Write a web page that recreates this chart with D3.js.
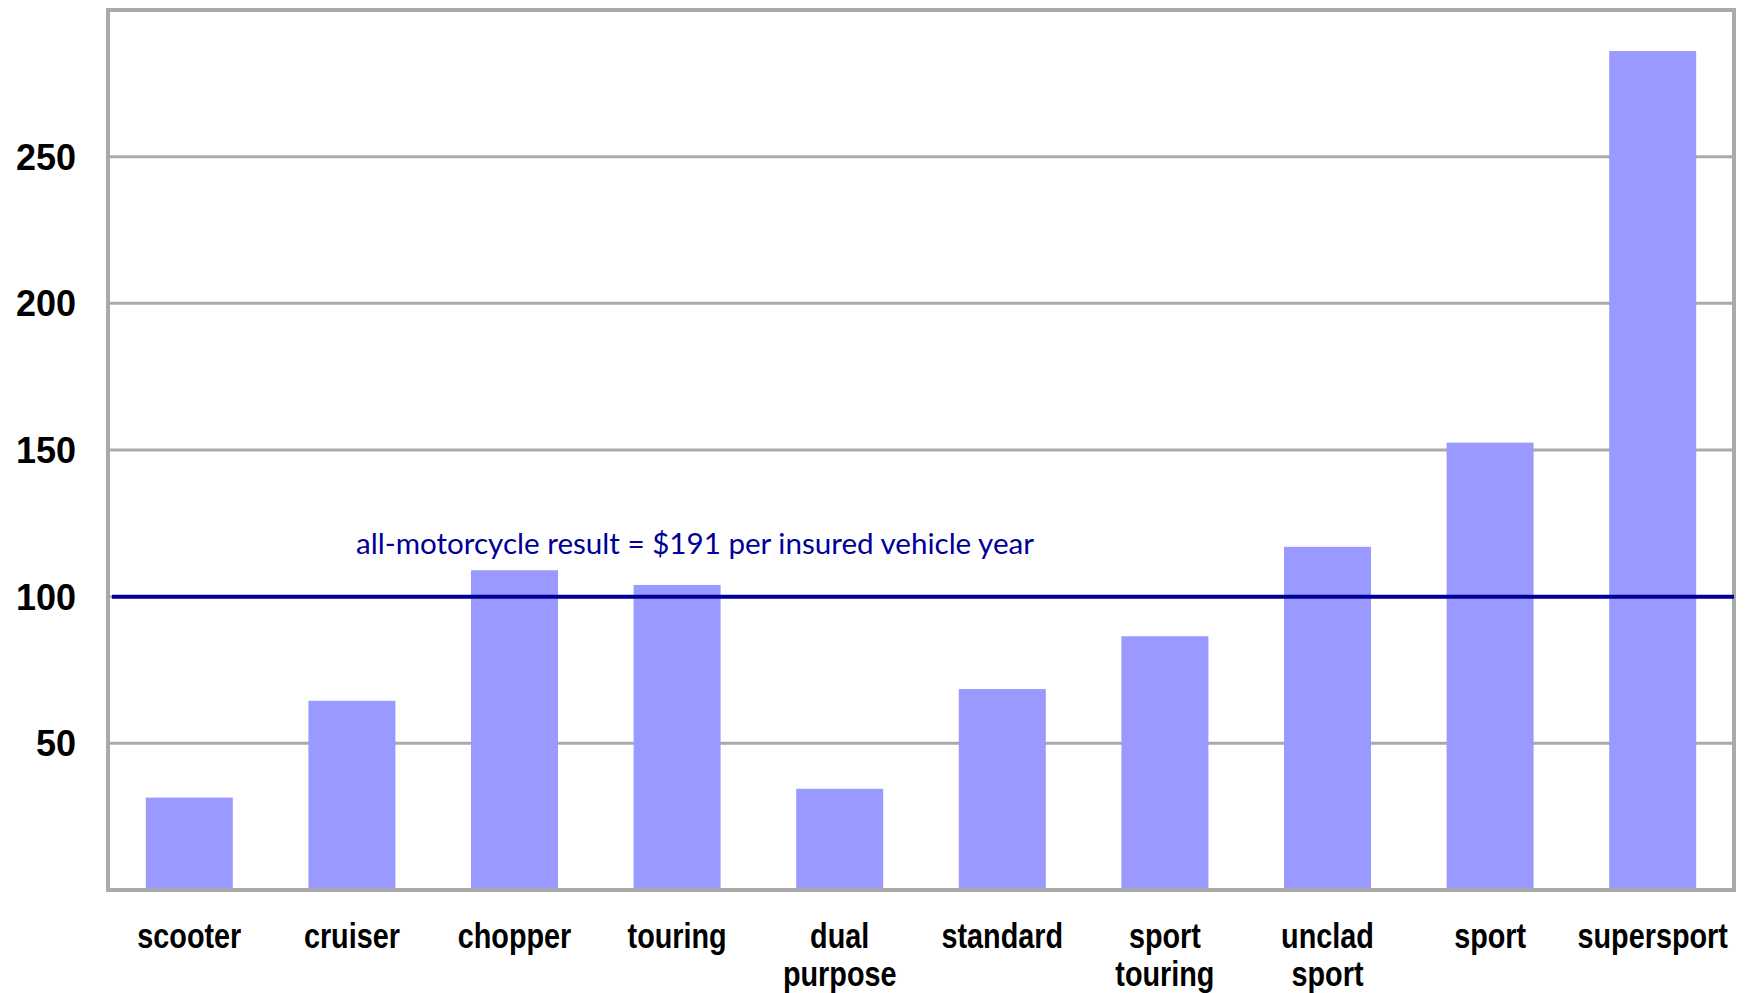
<!DOCTYPE html>
<html>
<head>
<meta charset="utf-8">
<script src="https://cdn.jsdelivr.net/npm/d3@7/dist/d3.min.js"></script>
<style>
  html, body { margin: 0; padding: 0; background: #fff; }
  svg { display: block; }
</style>
</head>
<body>
<svg id="chart" width="1749" height="993"></svg>
<script>
// ---- data ----
const categories = [
  ["scooter"], ["cruiser"], ["chopper"], ["touring"], ["dual", "purpose"],
  ["standard"], ["sport", "touring"], ["unclad", "sport"], ["sport"], ["supersport"]
];
const values = [31.5, 64.5, 109, 104, 34.5, 68.5, 86.5, 117, 152.5, 286];
const yTicks = [50, 100, 150, 200, 250];
const referenceValue = 100;
const referenceLabel = "all-motorcycle result = $191 per insured vehicle year";

(function () {
  // ---- layout ----
  const svg = d3.select("#chart");
  const pLeft = 108, pRight = 1734, pTop = 10, pBottom = 890;
  const keys = categories.map((c, i) => i);

  const x = d3.scaleBand().domain(keys).range([pLeft, pRight])
    .paddingInner(0.465).paddingOuter(0.2325);
  const y = d3.scaleLinear().domain([0, 300]).range([pBottom, pTop]);

  const gray = "#aaaaaa";
  const navy = "#000099";

  // gridlines
  svg.append("g").selectAll("line").data(yTicks).join("line")
    .attr("x1", pLeft).attr("x2", pRight)
    .attr("y1", d => y(d)).attr("y2", d => y(d))
    .attr("stroke", gray).attr("stroke-width", 3);

  // bars
  svg.append("g").selectAll("rect").data(values).join("rect")
    .attr("x", (d, i) => x(i))
    .attr("width", x.bandwidth())
    .attr("y", d => y(d))
    .attr("height", d => y(0) - y(d))
    .attr("fill", "#9999ff");

  // frame
  svg.append("rect")
    .attr("x", pLeft).attr("y", pTop)
    .attr("width", pRight - pLeft).attr("height", pBottom - pTop)
    .attr("fill", "none").attr("stroke", gray).attr("stroke-width", 4);

  // reference line
  svg.append("line")
    .attr("x1", pLeft + 4).attr("x2", pRight)
    .attr("y1", y(referenceValue)).attr("y2", y(referenceValue))
    .attr("stroke", navy).attr("stroke-width", 4);

  svg.append("text")
    .attr("x", 356).attr("y", 554)
    .attr("textLength", 678).attr("lengthAdjust", "spacingAndGlyphs")
    .attr("font-family", "Lato, 'Open Sans', sans-serif")
    .attr("font-size", 29)
    .attr("fill", navy)
    .text(referenceLabel);

  // y tick labels
  svg.append("g").selectAll("text").data(yTicks).join("text")
    .attr("x", 76).attr("y", d => y(d))
    .attr("dy", "0.36em")
    .attr("text-anchor", "end")
    .attr("font-family", "'Liberation Sans', Arial, sans-serif")
    .attr("font-weight", "bold")
    .attr("font-size", 36)
    .attr("fill", "#000")
    .text(d => d);

  // x labels
  const xl = svg.append("g").selectAll("g").data(categories).join("g")
    .attr("transform", (d, i) => `translate(${x(i) + x.bandwidth() / 2},948) scale(0.8,1)`);
  xl.selectAll("text").data(d => d).join("text")
    .attr("x", 0).attr("y", (d, j) => j * 38)
    .attr("text-anchor", "middle")
    .attr("font-family", "'Liberation Sans', Arial, sans-serif")
    .attr("font-weight", "bold")
    .attr("font-size", 36)
    .attr("fill", "#000")
    .text(d => d);
})();
</script>
</body>
</html>
